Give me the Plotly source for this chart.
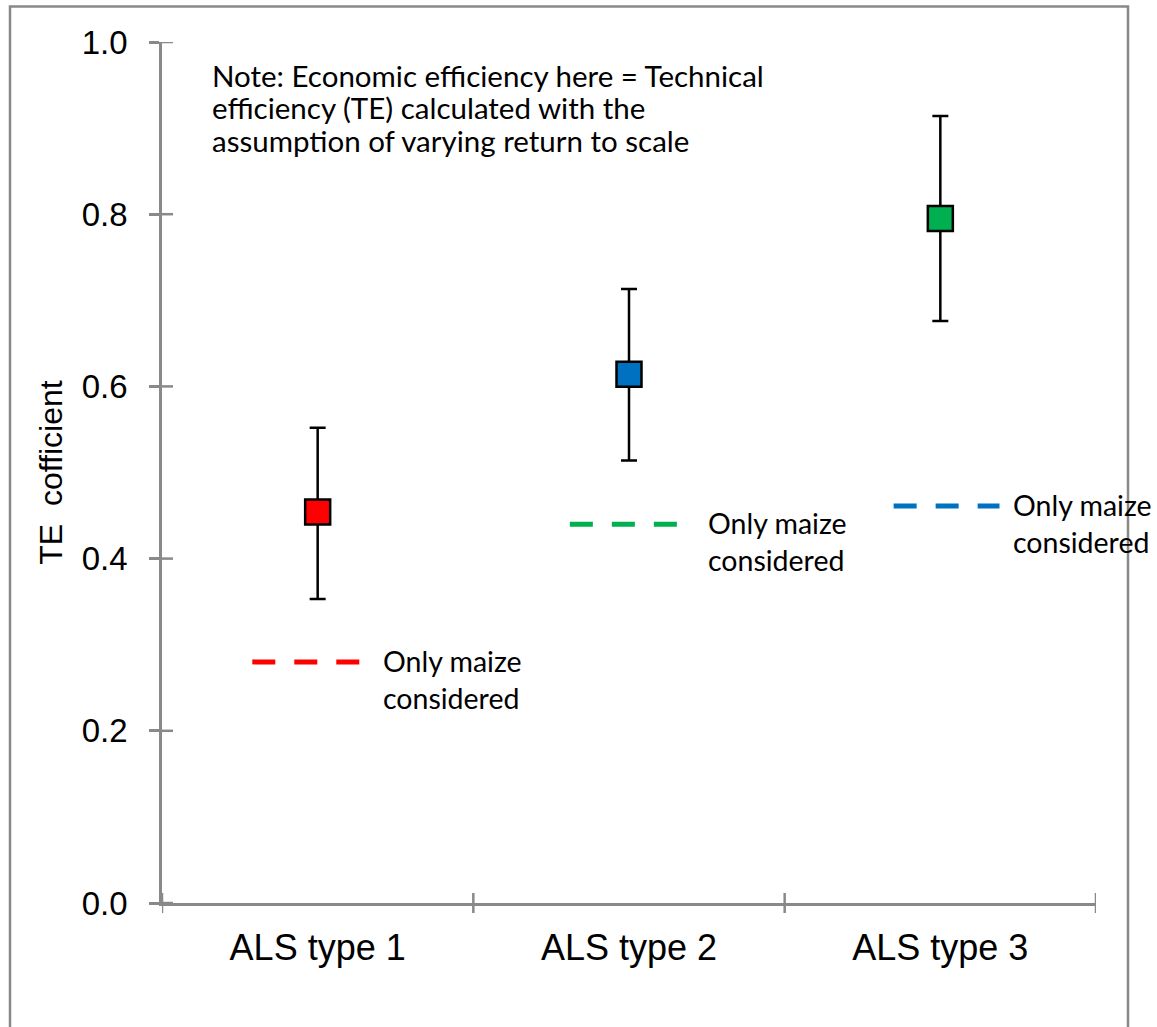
import plotly.graph_objects as go

categories = ["ALS type 1", "ALS type 2", "ALS type 3"]
te_values = [0.454, 0.614, 0.795]
err_plus = [0.098, 0.099, 0.119]
err_minus = [0.101, 0.100, 0.119]
marker_colors = ["#FF0000", "#0070C0", "#00B050"]
maize_values = [0.280, 0.440, 0.461]
maize_colors = ["#FF0000", "#00B050", "#0070C0"]
maize_label = "Only maize<br>considered"
y_ticks = [0.0, 0.2, 0.4, 0.6, 0.8, 1.0]
note_lines = ["Note: Economic efficiency here = Technical",
              "efficiency (TE) calculated with the",
              "assumption of varying return to scale"]

# plot-area geometry (px)
L, R, T, B = 162, 1096, 41.5, 903
W, H = 1157, 1027
pw, ph = R - L, B - T

centers = [i + 0.5 for i in range(len(categories))]
# horizontal extent of each dashed line relative to its category centre
dash_offsets = [(-0.21, 0.14), (-0.19, 0.16), (-0.15, 0.19)]
label_gaps = [20, 27, 12]

fig = go.Figure()

for i, (v, m, c) in enumerate(zip(maize_values, maize_colors, centers)):
    x0, x1 = c + dash_offsets[i][0], c + dash_offsets[i][1]
    fig.add_trace(go.Scatter(x=[x0, x1], y=[v, v], mode="lines",
                             line=dict(color=m, width=5, dash="23px,19px"),
                             showlegend=False, hoverinfo="skip"))
    fig.add_annotation(x=x1, y=v, xref="x", yref="y", text=maize_label,
                       showarrow=False, xanchor="left", yanchor="top",
                       xshift=label_gaps[i], yshift=20, align="left",
                       font=dict(family="Lato", size=28.5, color="black"))

fig.add_trace(go.Scatter(
    x=centers, y=te_values, mode="markers",
    marker=dict(symbol="square", size=25, color=marker_colors,
                line=dict(color="black", width=2.5)),
    error_y=dict(type="data", array=err_plus, arrayminus=err_minus,
                 color="black", thickness=2.5, width=8),
    showlegend=False))

axis_col = "#898989"

fig.update_xaxes(range=[0, 3], tickvals=centers, ticktext=categories,
                 ticks="outside", ticklen=11, tickcolor="rgba(0,0,0,0)",
                 showline=True, linecolor=axis_col, linewidth=2.5,
                 showgrid=False, zeroline=False,
                 tickfont=dict(family="Liberation Sans", size=36, color="black"))
fig.update_yaxes(range=[0, 1], tickvals=y_ticks,
                 ticktext=[f"{t:.1f}" for t in y_ticks],
                 ticks="outside", ticklen=10, tickcolor=axis_col, tickwidth=2.5,
                 ticklabelstandoff=15,
                 showline=True, linecolor=axis_col, linewidth=2.5,
                 showgrid=False, zeroline=False,
                 title=dict(text="TE  cofficient", standoff=10,
                            font=dict(family="Liberation Sans", size=32, color="black")),
                 tickfont=dict(family="Liberation Sans", size=33, color="black"))

shapes = []
# inside parts of y ticks
for t in y_ticks:
    shapes.append(dict(type="line", xref="paper", yref="y",
                       x0=0, x1=11 / pw, y0=t, y1=t,
                       line=dict(color=axis_col, width=2.5)))
# category boundary ticks on x axis
for b in range(len(categories) + 1):
    shapes.append(dict(type="line", xref="x", yref="paper",
                       x0=b, x1=b, y0=-10 / ph, y1=10 / ph,
                       line=dict(color=axis_col, width=2.5)))
# chart border
shapes.append(dict(type="rect", xref="paper", yref="paper",
                   x0=(10 - L) / pw, x1=(1128 - L) / pw,
                   y0=(B - 1040) / ph, y1=(B - 6) / ph,
                   line=dict(color=axis_col, width=2.5), fillcolor="rgba(0,0,0,0)"))

for k, line in enumerate(note_lines):
    fig.add_annotation(x=(210 - L) / pw, y=(B - (75 + 32.5 * k)) / ph,
                       xref="paper", yref="paper", text=line, showarrow=False,
                       xanchor="left", yanchor="middle",
                       font=dict(family="Lato", size=29.5, color="black"))

fig.update_layout(width=W, height=H, shapes=shapes,
                  margin=dict(l=L, r=W - R, t=T, b=H - B),
                  plot_bgcolor="white", paper_bgcolor="white")

fig.write_html("out.html")
